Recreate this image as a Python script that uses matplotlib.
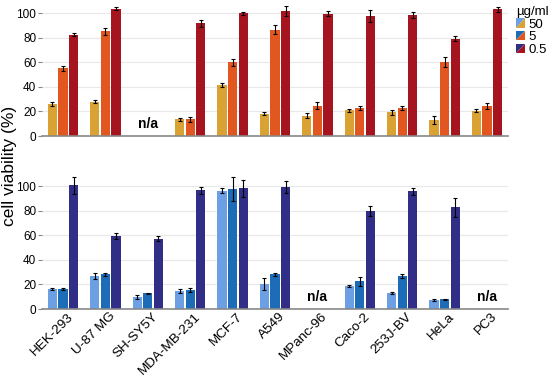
import matplotlib
matplotlib.use("Agg")
import matplotlib.pyplot as plt
from matplotlib.patches import Polygon
from matplotlib.transforms import ScaledTranslation
import numpy as np

plt.rcParams['font.family'] = ['Liberation Sans', 'DejaVu Sans']

# 数据
cell_lines = ["HEK-293", "U-87 MG", "SH-SY5Y", "MDA-MB-231", "MCF-7", "A549",
              "MPanc-96", "Caco-2", "253J-BV", "HeLa", "PC3"]
doses = ["50", "5", "0.5"]

# top panel (NaN = n/a)
top_50 = [26, 28, np.nan, 13.5, 41.5, 18, 16.5, 21, 19.5, 13, 20.7]
top_5 = [55, 85, np.nan, 13.5, 60, 86.5, 24.6, 23, 23, 60, 24.5]
top_05 = [82.4, 103.3, np.nan, 91.5, 99.7, 101.5, 99.5, 97.5, 98.5, 79, 103]
top_50_err = [1.5, 1.2, np.nan, 1.2, 1.8, 1.2, 2, 1.2, 2, 3, 1.5]
top_5_err = [1.8, 3, np.nan, 2, 3, 3.5, 2.8, 1.5, 1.5, 4, 2.8]
top_05_err = [1.2, 1.2, np.nan, 3, 1.2, 4, 2, 5, 2.5, 2, 1.8]

# bottom panel
bot_50 = [16.3, 26.6, 9.8, 14.6, 96.2, 20.3, np.nan, 18.7, 13.3, 7.3, np.nan]
bot_5 = [16.3, 28.2, 12.7, 15.7, 97.6, 28.2, np.nan, 22.5, 27.1, 8.1, np.nan]
bot_05 = [100.8, 59.6, 57.2, 96.7, 98.4, 99.5, np.nan, 80, 95.7, 82.7, np.nan]
bot_50_err = [1, 2.5, 1.5, 1.5, 2, 5, np.nan, 1, 0.8, 0.5, np.nan]
bot_5_err = [1, 1, 0.5, 1.5, 10, 1, np.nan, 3.5, 1.5, 0.5, np.nan]
bot_05_err = [7, 2.5, 2, 3, 7, 5, np.nan, 4, 3, 8, np.nan]

top_colors = ['#D9A233', '#E2561F', '#A6151F']
bot_colors = ['#6C9FE4', '#1C6CB8', '#312E88']

fig = plt.figure(figsize=(5.5, 3.76), dpi=100)
ax_top = fig.add_axes([0.076, 0.638, 0.848, 0.347])
ax_bot = fig.add_axes([0.076, 0.178, 0.848, 0.353])

x = np.arange(len(cell_lines))
bar_width = 0.22
offsets = [-0.25, 0, 0.25]


def draw_panel(ax, series, errs, colors, ymax):
    for off, vals, err, c in zip(offsets, series, errs, colors):
        ax.bar(x + off, vals, width=bar_width, color=c, zorder=2)
        ax.errorbar(x + off, vals, yerr=err, fmt='none', ecolor='black',
                    elinewidth=0.8, capsize=1.5, capthick=0.8, zorder=3)
    # n/a labels
    for i in range(len(cell_lines)):
        if np.isnan(series[0][i]):
            ax.text(x[i], 4, "n/a", ha='center', va='bottom',
                    fontsize=10, fontweight='bold')
    ax.set_xlim(-0.5, len(cell_lines) - 0.5)
    ax.set_ylim(0, ymax)
    ax.set_yticks([0, 20, 40, 60, 80, 100])
    ax.yaxis.grid(True, color='#e8e8e8', linewidth=0.8, zorder=0)
    ax.set_axisbelow(True)
    for s in ['top', 'right', 'left']:
        ax.spines[s].set_visible(False)
    ax.spines['bottom'].set_color('#888888')
    ax.spines['bottom'].set_linewidth(1.2)
    ax.tick_params(axis='y', length=3, color='#888888', labelsize=8.5, pad=1)
    ax.tick_params(axis='x', length=0)


draw_panel(ax_top, [top_50, top_5, top_05], [top_50_err, top_5_err, top_05_err],
           top_colors, 106)
draw_panel(ax_bot, [bot_50, bot_5, bot_05], [bot_50_err, bot_5_err, bot_05_err],
           bot_colors, 108)

ax_top.set_xticks(x)
ax_top.set_xticklabels([])
ax_bot.set_xticks(x)
ax_bot.set_xticklabels(cell_lines, rotation=45, ha='right',
                       rotation_mode='anchor', fontsize=9.7)
ax_bot.tick_params(axis='x', pad=1)
shift = ScaledTranslation(0.04, 0, fig.dpi_scale_trans)
for lbl in ax_bot.get_xticklabels():
    lbl.set_transform(lbl.get_transform() + shift)

fig.text(0.017, 0.56, "cell viability (%)", rotation=90, ha='center',
         va='center', fontsize=12.5)


# legend patches: split diagonally, blue upper-left, warm lower-right
class SplitHandle:
    def __init__(self, c1, c2):
        self.c1 = c1
        self.c2 = c2


class SplitHandler:
    def legend_artist(self, legend, orig_handle, fontsize, handlebox):
        x0, y0 = handlebox.xdescent, handlebox.ydescent
        w, h = handlebox.width, handlebox.height
        p1 = Polygon([[x0, y0], [x0, y0 + h], [x0 + w, y0 + h]],
                     closed=True, facecolor=orig_handle.c1, edgecolor='none',
                     transform=handlebox.get_transform())
        p2 = Polygon([[x0, y0], [x0 + w, y0], [x0 + w, y0 + h]],
                     closed=True, facecolor=orig_handle.c2, edgecolor='none',
                     transform=handlebox.get_transform())
        handlebox.add_artist(p1)
        handlebox.add_artist(p2)
        return p1


handles = [SplitHandle(b, t) for b, t in zip(bot_colors, top_colors)]
leg = fig.legend(handles, doses, handler_map={SplitHandle: SplitHandler()},
                 title="µg/ml", loc='upper left', bbox_to_anchor=(0.938, 0.985),
                 frameon=False, fontsize=9.5, title_fontsize=9.5,
                 handlelength=0.7, handleheight=0.7, handletextpad=0.25,
                 labelspacing=0.05, borderaxespad=0, borderpad=0)
leg._legend_box.align = "left"

fig.savefig("out.png", dpi=100)
